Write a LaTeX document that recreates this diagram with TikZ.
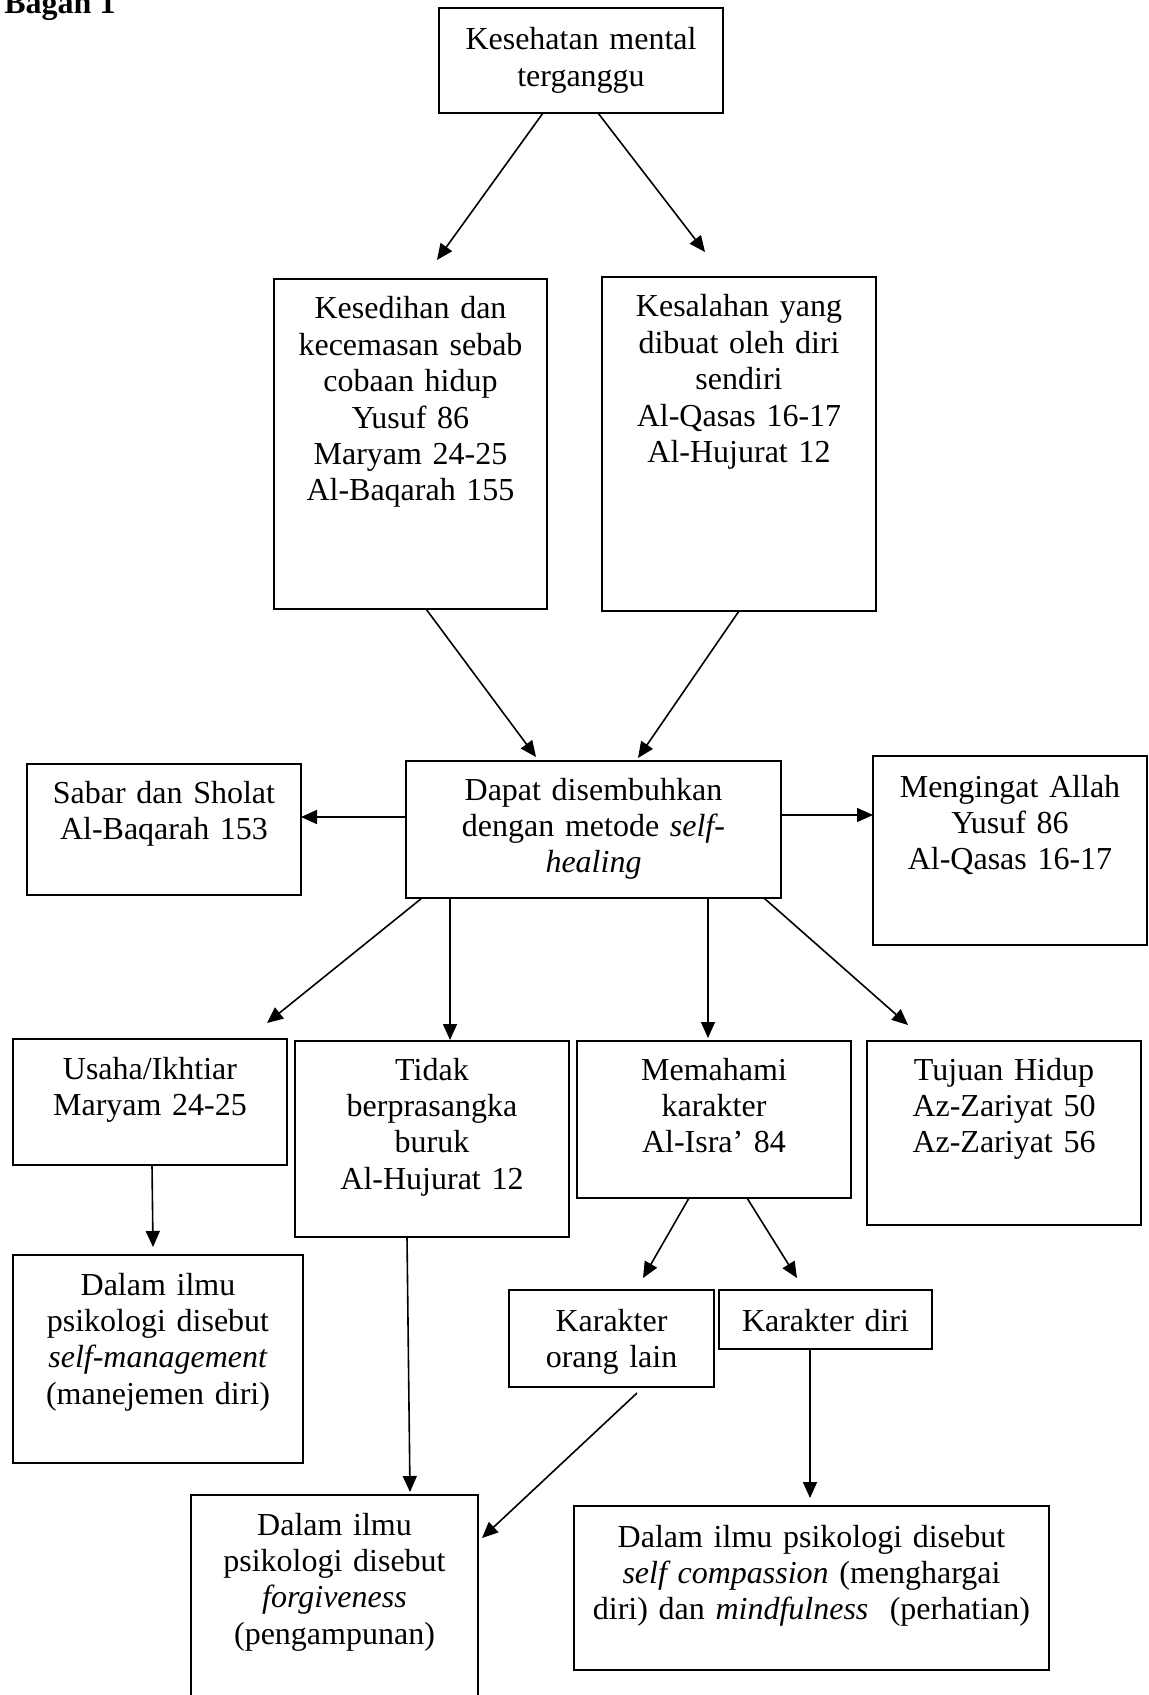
\documentclass[tikz,border=0pt]{standalone}
\usepackage{fontspec}
\setmainfont{Liberation Serif}
\usetikzlibrary{arrows.meta}
\begin{document}
\begin{tikzpicture}[x=0.5pt,y=-0.5pt,
  box/.style={draw, line width=0.9pt, inner sep=0pt, outer sep=0pt},
  txt/.style={anchor=north, inner sep=0pt, outer sep=0pt, align=center, text width=#1,
    font=\fontsize{16pt}{18.2pt}\selectfont},
  arr/.style={line width=0.8pt, -{Triangle[length=8pt,width=7pt]}}]
\useasboundingbox (0,0) rectangle (1149,1695);
\clip (0,0) rectangle (1149,1695);
\fill[white] (0,0) rectangle (1149,1695);

% title
\node[anchor=base west, inner sep=0pt, font=\fontsize{16pt}{18.2pt}\selectfont\bfseries] (title) at (4,14) {Bagan 1};

% boxes
\node[box, minimum width=142pt, minimum height=52.5pt] (top) at (581,60.5) {};
\node[box, minimum width=136.5pt, minimum height=165pt] (b1) at (410.5,444) {};
\node[box, minimum width=137pt, minimum height=167pt] (b2) at (739,444) {};
\node[box, minimum width=137pt, minimum height=65.5pt] (sabar) at (164,829.5) {};
\node[box, minimum width=187.5pt, minimum height=68.5pt] (center) at (593.5,829.5) {};
\node[box, minimum width=137pt, minimum height=94.5pt] (ingat) at (1010,850.5) {};
\node[box, minimum width=137pt, minimum height=63pt] (usaha) at (150,1102) {};
\node[box, minimum width=137pt, minimum height=98pt] (tidak) at (432,1139) {};
\node[box, minimum width=137pt, minimum height=78.5pt] (paham) at (714,1119.5) {};
\node[box, minimum width=137pt, minimum height=92pt] (tujuan) at (1004,1133) {};
\node[box, minimum width=145pt, minimum height=104pt] (selfman) at (158,1359) {};
\node[box, minimum width=102.5pt, minimum height=48.5pt] (korang) at (611.5,1338.5) {};
\node[box, minimum width=106.5pt, minimum height=29.5pt] (kdiri) at (825.5,1319.5) {};
\node[box, minimum width=143.5pt, minimum height=112.5pt] (forgive) at (334.5,1607.5) {};
\node[box, minimum width=237.5pt, minimum height=82pt] (compass) at (811.5,1588) {};

% texts
\node[txt=142pt] (ttop) at (581,26) {\rule{0pt}{12pt}Kesehatan mental\\terganggu};
\node[txt=136pt] (tb1) at (410.5,295) {\rule{0pt}{12pt}Kesedihan dan\\kecemasan sebab\\cobaan hidup\\Yusuf 86\\Maryam 24-25\\Al-Baqarah 155};
\node[txt=136pt] (tb2) at (739,293) {\rule{0pt}{12pt}Kesalahan yang\\dibuat oleh diri\\sendiri\\Al-Qasas 16-17\\Al-Hujurat 12};
\node[txt=136pt] (tsabar) at (164,779) {\rule{0pt}{12pt}Sabar dan Sholat\\Al-Baqarah 153};
\node[txt=186pt] (tcenter) at (593.5,776) {\rule{0pt}{12pt}Dapat disembuhkan\\dengan metode {\itshape self}-\\{\itshape healing}};
\node[txt=136pt] (tingat) at (1010,773) {\rule{0pt}{12pt}Mengingat Allah\\Yusuf 86\\Al-Qasas 16-17};
\node[txt=136pt] (tusaha) at (150,1055) {\rule{0pt}{12pt}Usaha/Ikhtiar\\Maryam 24-25};
\node[txt=136pt] (ttidak) at (432,1056) {\rule{0pt}{12pt}Tidak\\berprasangka\\buruk\\Al-Hujurat 12};
\node[txt=136pt] (tpaham) at (714,1056) {\rule{0pt}{12pt}Memahami\\karakter\\Al-Isra’ 84};
\node[txt=136pt] (ttujuan) at (1004,1056) {\rule{0pt}{12pt}Tujuan Hidup\\Az-Zariyat 50\\Az-Zariyat 56};
\node[txt=144pt] (tselfman) at (158,1271) {\rule{0pt}{12pt}Dalam ilmu\\psikologi disebut\\\textit{self-management}\\(manejemen diri)};
\node[txt=102pt] (tkorang) at (611.5,1307) {\rule{0pt}{12pt}Karakter\\orang lain};
\node[txt=106pt] (tkdiri) at (825.5,1307) {\rule{0pt}{12pt}Karakter diri};
\node[txt=143pt] (tforgive) at (334.5,1511) {\rule{0pt}{12pt}Dalam ilmu\\psikologi disebut\\\textit{forgiveness}\\(pengampunan)};
\node[txt=237pt] (tcompass) at (811.5,1523) {\rule{0pt}{12pt}Dalam ilmu psikologi disebut\\\textit{self compassion} (menghargai\\diri) dan \textit{mindfulness}\ \ (perhatian)};

% arrow end points
\coordinate (e1) at (437,260);
\coordinate (e2) at (705,252);
\coordinate (e3) at (536,757);
\coordinate (e4) at (638,758);
\coordinate (e5) at (301,817);
\coordinate (e6) at (873,815);
\coordinate (e7) at (267,1023);
\coordinate (e8) at (450,1040);
\coordinate (e9) at (708,1038);
\coordinate (e10) at (908,1025);
\coordinate (e11) at (153,1247);
\coordinate (e12) at (643,1278);
\coordinate (e13) at (797,1278);
\coordinate (e14) at (410,1492);
\coordinate (e15) at (482,1538);
\coordinate (e16) at (810,1498);

% connectors
\draw[arr] (top.south -| 543,0) -- (e1);
\draw[arr] (top.south -| 598,0) -- (e2);
\draw[arr] (b1.south -| 426,0) -- (e3);
\draw[arr] (b2.south -| 739,0) -- (e4);
\draw[arr] (center.west |- 0,817) -- (e5);
\draw[arr] (center.east |- 0,815) -- (e6);
\draw[arr] (center.south -| 422,0) -- (e7);
\draw[arr] (center.south -| 450,0) -- (e8);
\draw[arr] (center.south -| 708,0) -- (e9);
\draw[arr] (center.south -| 764,0) -- (e10);
\draw[arr] (usaha.south -| 152,0) -- (e11);
\draw[arr] (paham.south -| 689,0) -- (e12);
\draw[arr] (paham.south -| 747,0) -- (e13);
\draw[arr] (tidak.south -| 407,0) -- (e14);
\draw[arr] (korang.south -| 637,0) ++(0,6) -- (e15);
\draw[arr] (kdiri.south -| 810,0) -- (e16);
\end{tikzpicture}
\end{document}
